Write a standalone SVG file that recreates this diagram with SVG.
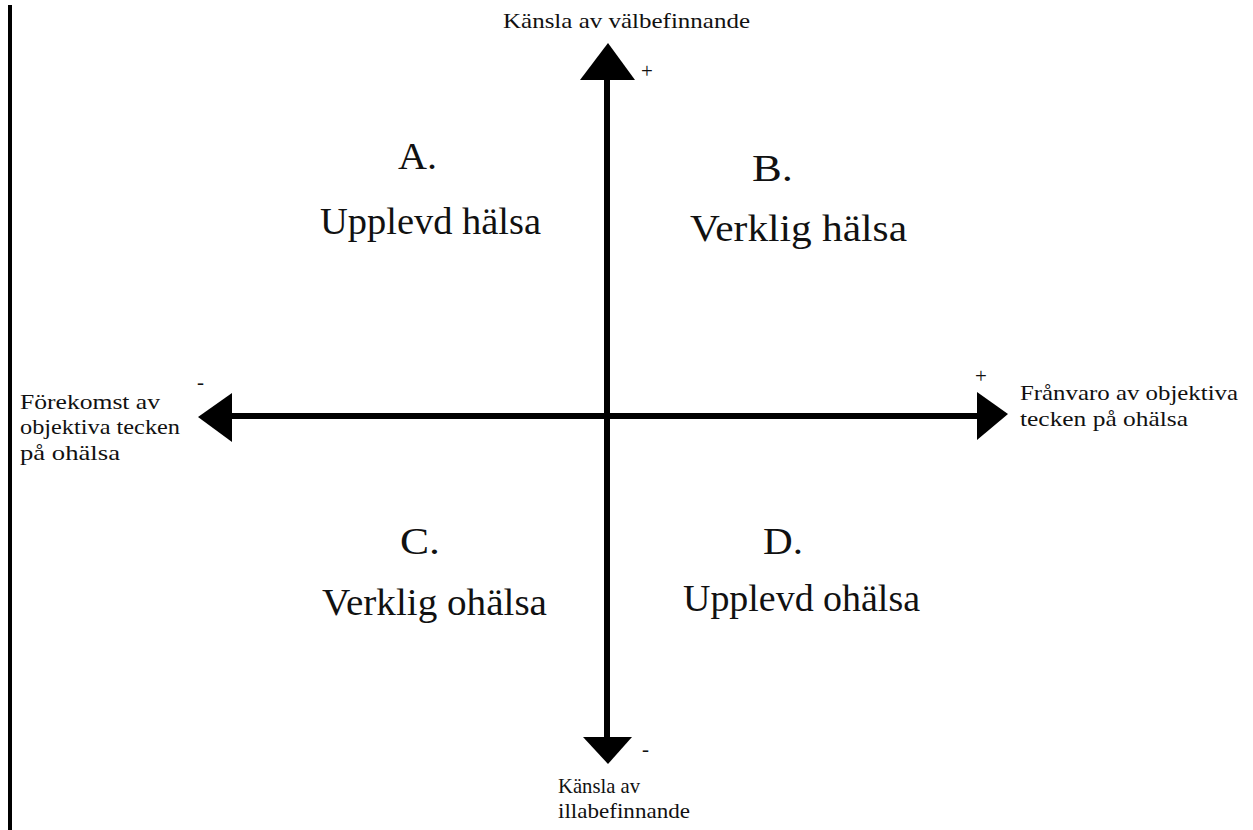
<svg xmlns="http://www.w3.org/2000/svg" width="1253" height="830" viewBox="0 0 1253 830">
<style>
text{font-family:"Liberation Serif","Times New Roman",serif;fill:#111}
.q{font-size:37px}
.s{font-size:21px}
.sign{font-size:21px}
</style>
<rect width="1253" height="830" fill="#fff"/>
<rect x="8" y="5" width="4" height="825" fill="#000"/>
<g id="connectors">
<line x1="607" y1="78" x2="607" y2="740" stroke="#000" stroke-width="6"/>
<line x1="230" y1="416" x2="979" y2="416" stroke="#000" stroke-width="6"/>
<polygon points="608,43 580,80 635,80" fill="#000"/>
<polygon points="608,764 583,737 632,737" fill="#000"/>
<polygon points="198,417 232,393 232,442" fill="#000"/>
<polygon points="1008,414 977,392 977,440" fill="#000"/>
</g>
<g id="axis-top">
<text class="s" x="503" y="28" textLength="247" lengthAdjust="spacingAndGlyphs">Känsla av välbefinnande</text>
<text class="sign" x="641" y="78">+</text>
</g>
<g id="axis-bottom">
<text class="s" x="558" y="793" textLength="82" lengthAdjust="spacingAndGlyphs">Känsla av</text>
<text class="s" x="558" y="818" textLength="132" lengthAdjust="spacingAndGlyphs">illabefinnande</text>
<text class="sign" x="642" y="756">-</text>
</g>
<g id="axis-left">
<text class="s" x="20" y="409" textLength="140" lengthAdjust="spacingAndGlyphs">Förekomst av</text>
<text class="s" x="20" y="434" textLength="160" lengthAdjust="spacingAndGlyphs">objektiva tecken</text>
<text class="s" x="20" y="460" textLength="100" lengthAdjust="spacingAndGlyphs">på ohälsa</text>
<text class="sign" x="197" y="389">-</text>
</g>
<g id="axis-right">
<text class="s" x="1020" y="400" textLength="218" lengthAdjust="spacingAndGlyphs">Frånvaro av objektiva</text>
<text class="s" x="1020" y="426" textLength="168" lengthAdjust="spacingAndGlyphs">tecken på ohälsa</text>
<text class="sign" x="975" y="383">+</text>
</g>
<g id="quadrant-a">
<text class="q" x="398" y="169" textLength="39" lengthAdjust="spacingAndGlyphs">A.</text>
<text class="q" x="320" y="234" textLength="221" lengthAdjust="spacingAndGlyphs">Upplevd hälsa</text>
</g>
<g id="quadrant-b">
<text class="q" x="752" y="181" textLength="41" lengthAdjust="spacingAndGlyphs">B.</text>
<text class="q" x="690" y="241" textLength="217" lengthAdjust="spacingAndGlyphs">Verklig hälsa</text>
</g>
<g id="quadrant-c">
<text class="q" x="400" y="554" textLength="40" lengthAdjust="spacingAndGlyphs">C.</text>
<text class="q" x="322" y="615" textLength="225" lengthAdjust="spacingAndGlyphs">Verklig ohälsa</text>
</g>
<g id="quadrant-d">
<text class="q" x="763" y="554" textLength="40" lengthAdjust="spacingAndGlyphs">D.</text>
<text class="q" x="683" y="611" textLength="237" lengthAdjust="spacingAndGlyphs">Upplevd ohälsa</text>
</g>
</svg>
